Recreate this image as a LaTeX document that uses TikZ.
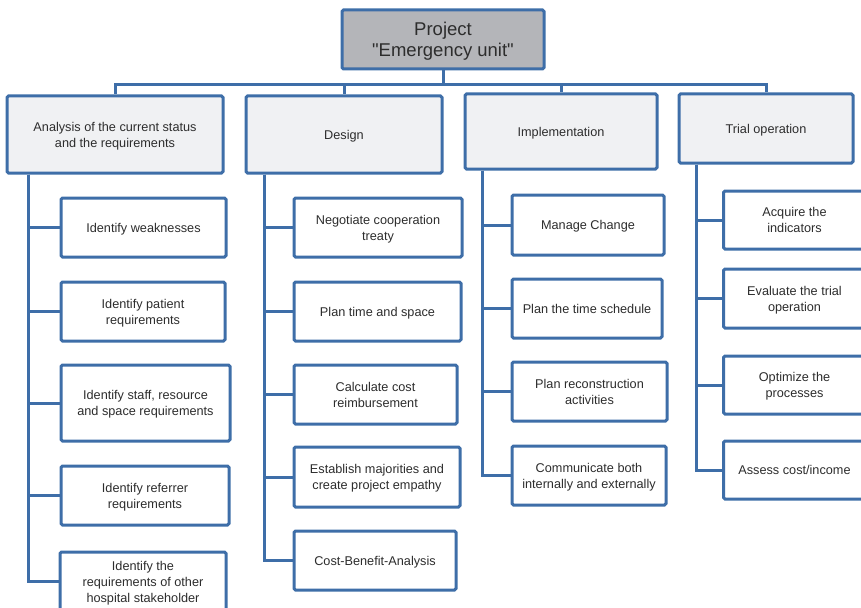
\documentclass[tikz,border=0pt]{standalone}
\usepackage{fontspec}
\setmainfont{Liberation Sans}[Ligatures=TeXOff]
\definecolor{edgeblue}{RGB}{62,110,168}
\definecolor{topgray}{RGB}{180,181,185}
\definecolor{headgray}{RGB}{240,241,243}
\definecolor{txt}{RGB}{45,45,45}
\begin{document}
\begin{tikzpicture}[x=1pt,y=-1pt,
  box/.style={draw=edgeblue,line width=3pt,rounded corners=1.5pt,fill=white,
    text=txt,align=center,inner sep=0pt,text depth=0pt,
    font=\fontsize{12.7}{16}\selectfont},
  rootbox/.style={box,fill=topgray,font=\fontsize{18.5}{21}\selectfont},
  headbox/.style={box,fill=headgray},
  link/.style={draw=edgeblue,line width=3pt,line join=miter}]
\useasboundingbox (0,0) rectangle (861,607);

% root
\node[rootbox,minimum width=202pt,minimum height=59pt] (root) at (443,39.5) {Project\\"Emergency unit"};

% phase headers
\node[headbox,minimum width=216pt,minimum height=77pt] (anl) at (115,134.5) {Analysis of the current status\\and the requirements};
\node[headbox,minimum width=196pt,minimum height=77pt] (des) at (344,134.5) {Design};
\node[headbox,minimum width=192pt,minimum height=75pt] (imp) at (561,131.5) {Implementation};
\node[headbox,minimum width=174pt,minimum height=69pt] (tri) at (766,128.5) {Trial operation};

% root to headers
\foreach \h in {anl,des,imp,tri}
  \draw[link] (root.south) -- ++(0,14) -| (\h.north);

% analysis tasks
\node[box,minimum width=165pt,minimum height=59pt] (a1) at (143.5,227.5) {Identify weaknesses};
\node[box,minimum width=164pt,minimum height=59pt] (a2) at (143,311.5) {Identify patient\\requirements};
\node[box,minimum width=169pt,minimum height=76pt] (a3) at (145.5,403) {Identify staff, resource\\and space requirements};
\node[box,minimum width=168pt,minimum height=59pt] (a4) at (145,495.5) {Identify referrer\\requirements};
\node[box,minimum width=166pt,minimum height=59pt] (a5) at (143,581.5) {Identify the\\requirements of other\\hospital stakeholder};

% design tasks
\node[box,minimum width=168pt,minimum height=59pt] (d1) at (378,227.5) {Negotiate cooperation\\treaty};
\node[box,minimum width=167pt,minimum height=59pt] (d2) at (377.5,311.5) {Plan time and space};
\node[box,minimum width=163pt,minimum height=59pt] (d3) at (375.5,394.5) {Calculate cost\\reimbursement};
\node[box,minimum width=166pt,minimum height=60pt] (d4) at (377,477) {Establish majorities and\\create project empathy};
\node[box,minimum width=162pt,minimum height=59pt] (d5) at (375,560.5) {Cost-Benefit-Analysis};

% implementation tasks
\node[box,minimum width=152pt,minimum height=60pt] (i1) at (588,225) {Manage Change};
\node[box,minimum width=150pt,minimum height=59pt] (i2) at (587,308.5) {Plan the time schedule};
\node[box,minimum width=155pt,minimum height=59pt] (i3) at (589.5,391.5) {Plan reconstruction\\activities};
\node[box,minimum width=154pt,minimum height=59pt] (i4) at (589,475.5) {Communicate both\\internally and externally};

% trial operation tasks
\node[box,minimum width=142pt,minimum height=58pt] (t1) at (794.5,220) {Acquire the\\indicators};
\node[box,minimum width=142pt,minimum height=59pt] (t2) at (794.5,298.5) {Evaluate the trial\\operation};
\node[box,minimum width=142pt,minimum height=58pt] (t3) at (794.5,385) {Optimize the\\processes};
\node[box,minimum width=142pt,minimum height=58pt] (t4) at (794.5,470) {Assess cost/income};

% header to task connectors
\foreach \c in {a1,a2,a3,a4,a5}
  \draw[link] ([xshift=23pt]anl.south west) |- (\c.west);
\foreach \c in {d1,d2,d3,d4,d5}
  \draw[link] ([xshift=20pt]des.south west) |- (\c.west);
\foreach \c in {i1,i2,i3,i4}
  \draw[link] ([xshift=19pt]imp.south west) |- (\c.west);
\foreach \c in {t1,t2,t3,t4}
  \draw[link] ([xshift=19pt]tri.south west) |- (\c.west);
\end{tikzpicture}
\end{document}
